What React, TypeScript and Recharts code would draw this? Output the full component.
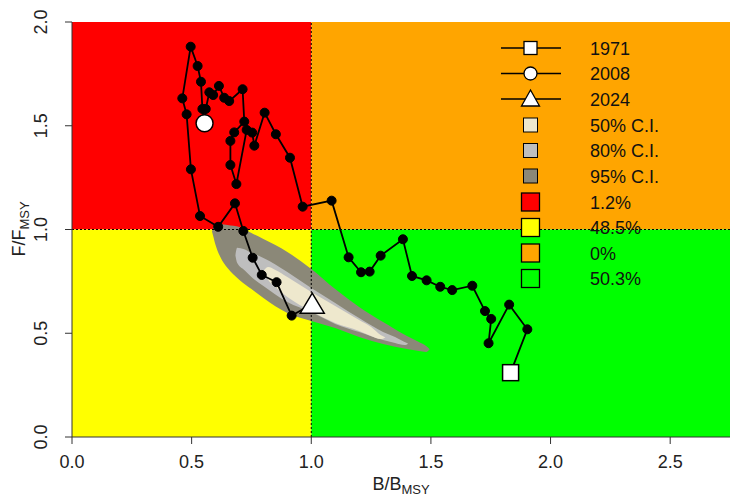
import { ComposedChart, XAxis, YAxis, ReferenceArea, ReferenceLine, Area, Line, Scatter } from 'recharts'

const W = 730
const H = 496

// stock trajectory, 1971 -> 2024 (B/Bmsy, F/Fmsy)
const bRatio = [1.833, 1.903, 1.827, 1.741, 1.752, 1.726, 1.673, 1.589, 1.539, 1.482, 1.421, 1.383, 1.290, 1.244, 1.208, 1.156, 1.085, 0.964, 0.911, 0.852, 0.805, 0.762, 0.753, 0.730, 0.687, 0.662, 0.662, 0.678, 0.720, 0.713, 0.657, 0.636, 0.614, 0.590, 0.574, 0.559, 0.554, 0.545, 0.539, 0.525, 0.496, 0.461, 0.479, 0.497, 0.535, 0.611, 0.681, 0.716, 0.755, 0.793, 0.855, 0.918, 1.004]
const fRatio = [0.310, 0.519, 0.638, 0.452, 0.569, 0.607, 0.729, 0.708, 0.724, 0.755, 0.776, 0.953, 0.874, 0.797, 0.794, 0.866, 1.139, 1.110, 1.346, 1.459, 1.563, 1.404, 1.467, 1.480, 1.219, 1.311, 1.427, 1.468, 1.520, 1.676, 1.619, 1.635, 1.692, 1.648, 1.661, 1.581, 1.512, 1.581, 1.712, 1.788, 1.881, 1.632, 1.555, 1.290, 1.065, 1.013, 1.126, 0.993, 0.864, 0.781, 0.746, 0.585, 0.640]

// highlighted years and their index in the trajectory
const markYears = ['1971', '2008', '2024']
const markIdx = [0, 36, 52]

// confidence regions of the final year, as lower/upper F per B
const ci95B = [0.585, 0.59, 0.60, 0.62, 0.65, 0.70, 0.75, 0.80, 0.90, 1.00, 1.10, 1.20, 1.30, 1.40, 1.45, 1.48, 1.495]
const ci95Lo = [0.99, 0.969, 0.925, 0.867, 0.814, 0.757, 0.713, 0.670, 0.598, 0.559, 0.525, 0.482, 0.448, 0.424, 0.414, 0.410, 0.423]
const ci95Hi = [0.99, 1.007, 1.022, 1.027, 1.022, 1.012, 0.983, 0.954, 0.892, 0.810, 0.713, 0.627, 0.554, 0.487, 0.458, 0.439, 0.423]

const ci80B = [0.683, 0.69, 0.72, 0.75, 0.80, 0.90, 1.00, 1.10, 1.20, 1.30, 1.35, 1.39, 1.405]
const ci80Lo = [0.875, 0.84, 0.805, 0.771, 0.728, 0.651, 0.602, 0.545, 0.506, 0.467, 0.453, 0.443, 0.45]
const ci80Hi = [0.875, 0.912, 0.905, 0.887, 0.863, 0.795, 0.718, 0.646, 0.573, 0.506, 0.482, 0.458, 0.45]

const ci50B = [0.80, 0.82, 0.85, 0.90, 1.00, 1.10, 1.20, 1.25, 1.29, 1.31]
const ci50Lo = [0.80, 0.757, 0.723, 0.675, 0.607, 0.549, 0.511, 0.487, 0.472, 0.48]
const ci50Hi = [0.80, 0.819, 0.805, 0.771, 0.699, 0.631, 0.564, 0.530, 0.492, 0.48]

const xTicks = [0, 0.5, 1, 1.5, 2, 2.5]
const yTicks = [0, 0.5, 1, 1.5, 2]

const ciLabels = ['50% C.I.', '80% C.I.', '95% C.I.']
const quadLabels = ['1.2%', '48.5%', '0%', '50.3%']

const C50 = '#EEE8CD'
const C80 = '#BEBEBE'
const C95 = '#8B8878'
const RED = '#FF0000'
const YELLOW = '#FFFF00'
const ORANGE = '#FFA500'
const GREEN = '#00FF00'

const FONT = '"Liberation Sans", Arial, sans-serif'
const AXIS = '#333'

const traj = bRatio.map((x, i) => ({ x, y: fRatio[i] }))
const band = (b: number[], lo: number[], hi: number[]) => b.map((x, i) => ({ x, r: [lo[i], hi[i]] }))
const marks = markIdx.map(i => [{ x: bRatio[i], y: fRatio[i] }])

function XTick({ x, y, payload }: any) {
  return (
    <text x={x} y={y + 22} textAnchor="middle" fontSize={18} fontFamily={FONT} fill="#222">
      {Number(payload.value).toFixed(1)}
    </text>
  )
}

function YTick({ x, y, payload }: any) {
  const bx = x - 16
  return (
    <text x={bx} y={y} transform={`rotate(-90, ${bx}, ${y})`} textAnchor="middle" fontSize={18} fontFamily={FONT} fill="#222">
      {Number(payload.value).toFixed(1)}
    </text>
  )
}

const Square = ({ cx, cy }: any) => <rect x={cx - 8} y={cy - 8} width={16} height={16} fill="#fff" stroke="#000" strokeWidth={1.5} />
const Circ = ({ cx, cy }: any) => <circle cx={cx} cy={cy} r={8.5} fill="#fff" stroke="#000" strokeWidth={1.5} />
const Tri = ({ cx, cy }: any) => (
  <polygon points={`${cx},${cy - 11} ${cx + 12},${cy + 9} ${cx - 12},${cy + 9}`} fill="#fff" stroke="#000" strokeWidth={1.5} />
)
const markShapes = [Square, Circ, Tri]

function LegendOverlay() {
  const rows = [48, 73.5, 99, 125, 150.5, 176, 202, 227.5, 253, 278.5]
  const tx = 590
  const mx = 530.5
  const labels = [...markYears, ...ciLabels, ...quadLabels]
  const ciFill = [C50, C80, C95]
  const qFill = [RED, YELLOW, ORANGE, GREEN]
  return (
    <svg width={W} height={H} style={{ position: 'absolute', left: 0, top: 0, pointerEvents: 'none' }}>
      {[0, 1, 2].map(i => {
        const y = rows[i]
        const Shape = markShapes[i]
        return (
          <g key={'m' + i}>
            <line x1={501} x2={561} y1={y} y2={y} stroke="#000" strokeWidth={1.5} />
            {i === 0 ? <rect x={mx - 6.5} y={y - 6.5} width={13} height={13} fill="#fff" stroke="#000" strokeWidth={1.3} /> : null}
            {i === 1 ? <circle cx={mx} cy={y} r={6.5} fill="#fff" stroke="#000" strokeWidth={1.3} /> : null}
            {i === 2 ? <polygon points={`${mx},${y - 9} ${mx + 9},${y + 7} ${mx - 9},${y + 7}`} fill="#fff" stroke="#000" strokeWidth={1.3} /> : null}
            {Shape ? null : null}
          </g>
        )
      })}
      {ciFill.map((c, i) => (
        <rect key={'c' + i} x={mx - 7} y={rows[3 + i] - 7} width={14} height={14} fill={c} stroke="#000" strokeWidth={1} />
      ))}
      {qFill.map((c, i) => (
        <rect key={'q' + i} x={mx - 9} y={rows[6 + i] - 9} width={18} height={18} fill={c} stroke="#000" strokeWidth={1.3} />
      ))}
      {labels.map((t, i) => (
        <text key={'t' + i} x={tx} y={rows[i] + 6.5} fontSize={18} fontFamily={FONT} fill="#111">{t}</text>
      ))}
      <text x={401} y={490} textAnchor="middle" fontSize={18} fontFamily={FONT} fill="#222">
        B/B<tspan fontSize={13} dy={4}>MSY</tspan>
      </text>
      <text x={25} y={229} transform="rotate(-90, 25, 229)" textAnchor="middle" fontSize={18} fontFamily={FONT} fill="#222">
        F/F<tspan fontSize={13} dy={4}>MSY</tspan>
      </text>
    </svg>
  )
}

export default function App() {
  return (
    <div style={{ position: 'absolute', left: 0, top: 0, width: W, height: H, background: '#fff' }}>
      <ComposedChart width={W} height={H} margin={{ top: 22, right: 0, bottom: 0, left: 0 }}>
        <XAxis type="number" dataKey="x" domain={[0, 2.75]} ticks={xTicks} allowDataOverflow
          height={59} tickSize={7} stroke={AXIS} tick={<XTick />} />
        <YAxis type="number" dataKey="y" domain={[0, 2]} ticks={yTicks} allowDataOverflow
          width={72} tickSize={7} stroke={AXIS} tick={<YTick />} />

        <ReferenceArea x1={0} x2={1} y1={1} y2={2} fill={RED} fillOpacity={1} stroke="none" />
        <ReferenceArea x1={1} x2={2.75} y1={1} y2={2} fill={ORANGE} fillOpacity={1} stroke="none" />
        <ReferenceArea x1={0} x2={1} y1={0} y2={1} fill={YELLOW} fillOpacity={1} stroke="none" />
        <ReferenceArea x1={1} x2={2.75} y1={0} y2={1} fill={GREEN} fillOpacity={1} stroke="none" />

        <Area data={band(ci95B, ci95Lo, ci95Hi)} dataKey="r" type="monotone" fill={C95} fillOpacity={1} stroke="none" isAnimationActive={false} />
        <Area data={band(ci80B, ci80Lo, ci80Hi)} dataKey="r" type="monotone" fill={C80} fillOpacity={1} stroke="none" isAnimationActive={false} />
        <Area data={band(ci50B, ci50Lo, ci50Hi)} dataKey="r" type="monotone" fill={C50} fillOpacity={1} stroke="none" isAnimationActive={false} />

        <ReferenceLine x={1} stroke="#000" strokeWidth={1} strokeDasharray="2 2" />
        <ReferenceLine y={1} stroke="#000" strokeWidth={1} strokeDasharray="2 2" />

        <Line data={traj} dataKey="y" type="linear" stroke="#000" strokeWidth={1.8}
          dot={{ r: 4.5, fill: '#000', stroke: '#000', strokeWidth: 1 }} isAnimationActive={false} />

        {marks.map((d, i) => (
          <Scatter key={markYears[i]} data={d} shape={markShapes[i]} isAnimationActive={false} />
        ))}
      </ComposedChart>
      <LegendOverlay />
    </div>
  )
}
